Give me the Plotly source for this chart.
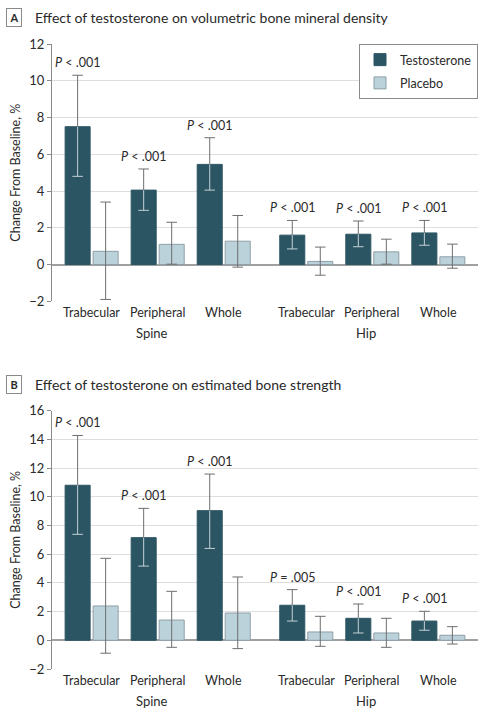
import plotly.graph_objects as go

# ---------------- data ----------------
categories = ["Trabecular", "Peripheral", "Whole", "Trabecular", "Peripheral", "Whole"]
sites = ["Spine", "Hip"]

# Panel A: volumetric BMD
a_test = [7.5, 4.05, 5.45, 1.6, 1.65, 1.72]
a_test_lo = [4.8, 2.95, 4.05, 0.85, 0.97, 1.05]
a_test_hi = [10.3, 5.2, 6.9, 2.4, 2.37, 2.4]
a_plac = [0.72, 1.1, 1.27, 0.17, 0.69, 0.42]
a_plac_lo = [-1.9, 0.02, -0.14, -0.58, 0.02, -0.2]
a_plac_hi = [3.4, 2.3, 2.67, 0.95, 1.38, 1.11]
a_p = ["<i>P</i> < .001"] * 6

# Panel B: estimated bone strength
b_test = [10.8, 7.15, 9.03, 2.44, 1.53, 1.34]
b_test_lo = [7.38, 5.17, 6.4, 1.34, 0.51, 0.7]
b_test_hi = [14.27, 9.19, 11.58, 3.53, 2.53, 2.02]
b_plac = [2.39, 1.41, 1.9, 0.58, 0.51, 0.35]
b_plac_lo = [-0.9, -0.49, -0.58, -0.42, -0.49, -0.26]
b_plac_hi = [5.71, 3.41, 4.41, 1.67, 1.53, 0.95]
b_p = ["<i>P</i> < .001", "<i>P</i> < .001", "<i>P</i> < .001",
       "<i>P</i> = .005", "<i>P</i> < .001", "<i>P</i> < .001"]

# ---------------- style ----------------
W, H = 486, 714
FONT = "Lato"
C_TEST = "#2c5563"
C_PLAC = "#bcd2db"
C_PLAC_LINE = "#8d9fa6"
C_ERR = "#6e6e6e"
C_ERR_IN = "#c3d0d5"
TXT = "#2a2a2a"

pos = [0, 1, 2, 3.25, 4.25, 5.25]
off = 0.212
bw = 0.379
cap = 0.08

px_left, px_right = 52, 478
panels = [
    dict(top=44, bottom=301.3, rng=[-2, 12], title="Effect of testosterone on volumetric bone mineral density",
         letter="A", ty=17, test=a_test, tlo=a_test_lo, thi=a_test_hi,
         plac=a_plac, plo=a_plac_lo, phi=a_plac_hi, p=a_p),
    dict(top=410.6, bottom=669, rng=[-2, 16], title="Effect of testosterone on estimated bone strength",
         letter="B", ty=384, test=b_test, tlo=b_test_lo, thi=b_test_hi,
         plac=b_plac, plo=b_plac_lo, phi=b_plac_hi, p=b_p),
]

fig = go.Figure()
annotations = []
shapes = []

for i, pn in enumerate(panels):
    k = "" if i == 0 else str(i + 1)
    xa, ya = "x" + k, "y" + k
    xt = [p - off for p in pos]
    xp = [p + off for p in pos]
    fig.add_trace(go.Bar(x=xt, y=pn["test"], width=bw, marker=dict(color=C_TEST, line=dict(color=C_TEST, width=1)),
                         name="Testosterone", legendgroup="t", showlegend=(i == 0), xaxis=xa, yaxis=ya,
                         hoverinfo="skip"))
    fig.add_trace(go.Bar(x=xp, y=pn["plac"], width=bw, marker=dict(color=C_PLAC, line=dict(color=C_PLAC_LINE, width=1)),
                         name="Placebo", legendgroup="p", showlegend=(i == 0), xaxis=xa, yaxis=ya,
                         hoverinfo="skip"))
    gx, gy, lx, ly = [], [], [], []
    for x, v, lo, hi in zip(xt, pn["test"], pn["tlo"], pn["thi"]):
        gx += [x, x, None, x - cap, x + cap, None]
        gy += [v, hi, None, hi, hi, None]
        lx += [x, x, None, x - cap, x + cap, None]
        ly += [lo, v, None, lo, lo, None]
    for x, lo, hi in zip(xp, pn["plo"], pn["phi"]):
        gx += [x, x, None, x - cap, x + cap, None, x - cap, x + cap, None]
        gy += [lo, hi, None, hi, hi, None, lo, lo, None]
    fig.add_trace(go.Scatter(x=gx, y=gy, mode="lines", line=dict(color=C_ERR, width=1), showlegend=False,
                             xaxis=xa, yaxis=ya, hoverinfo="skip"))
    fig.add_trace(go.Scatter(x=lx, y=ly, mode="lines", line=dict(color=C_ERR_IN, width=1), showlegend=False,
                             xaxis=xa, yaxis=ya, hoverinfo="skip"))
    for x, hi, txt in zip(xt, pn["thi"], pn["p"]):
        annotations.append(dict(x=x, y=hi, xref=xa, yref=ya, text=txt, showarrow=False, yanchor="bottom",
                                xanchor="center", yshift=3, font=dict(family=FONT, size=12.5, color=TXT)))
    for x, c in zip(pos, categories):
        annotations.append(dict(x=x, y=pn["rng"][0], xref=xa, yref=ya, text=c, showarrow=False, yanchor="top",
                                xanchor="center", yshift=-2, font=dict(family=FONT, size=12.5, color=TXT)))
    for (x0, x1), s in zip([(pos[0] - 0.477, pos[2] + 0.295), (pos[3] - 0.477, pos[5] + 0.295)], sites):
        for sh in [(x0, x1, 19.5, 19.5), (x0, x0, 19.5, 14.5), (x1, x1, 19.5, 14.5)]:
            shapes.append(dict(type="line", xref=xa, yref=ya, ysizemode="pixel", yanchor=pn["rng"][0],
                               x0=sh[0], x1=sh[1], y0=-sh[2], y1=-sh[3], line=dict(color="#8a8a8a", width=1)))
        annotations.append(dict(x=(x0 + x1) / 2, y=pn["rng"][0], xref=xa, yref=ya, text=s, showarrow=False,
                                xanchor="center", yanchor="top", yshift=-22, font=dict(family=FONT, size=13, color=TXT)))
    annotations.append(dict(x=33 / W, y=1 - pn["ty"] / H, xref="paper", yref="paper", text=pn["title"],
                            showarrow=False, xanchor="left", yanchor="middle",
                            font=dict(family=FONT, size=14, color=TXT)))
    annotations.append(dict(x=14 / W, y=1 - pn["ty"] / H, xref="paper", yref="paper", text="<b>" + pn["letter"] + "</b>",
                            showarrow=False, xanchor="center", yanchor="middle", bordercolor="#8a8a8a", borderwidth=1,
                            borderpad=2, width=10, font=dict(family=FONT, size=11, color=TXT)))
    annotations.append(dict(x=16 / W, y=1 - (pn["top"] + pn["bottom"]) / 2 / H, xref="paper", yref="paper",
                            text="Change From Baseline, %", textangle=-90, showarrow=False,
                            xanchor="center", yanchor="middle",
                            font=dict(family=FONT, size=12.5, color=TXT)))

    dom_y = [1 - pn["bottom"] / H, 1 - pn["top"] / H]
    fig.update_layout(**{
        "xaxis" + k: dict(domain=[px_left / W, px_right / W], range=[-0.6, 5.85], showgrid=False, zeroline=False,
                          showline=False, showticklabels=False, ticks="", fixedrange=True,
                          anchor=ya, automargin=False),
        "yaxis" + k: dict(domain=dom_y, range=pn["rng"], dtick=2, showgrid=True, gridcolor="#dedede", gridwidth=1,
                          zeroline=True, zerolinecolor="#a0a0a0", zerolinewidth=1.5,
                          showline=True, linecolor="#8a8a8a", linewidth=1, ticks="outside", ticklen=4,
                          tickcolor="#8a8a8a", tickfont=dict(family=FONT, size=13, color=TXT),
                          anchor=xa, fixedrange=True, automargin=False),
    })

fig.update_layout(
    width=W, height=H, margin=dict(l=0, r=0, t=0, b=0, pad=0, autoexpand=False),
    paper_bgcolor="white", plot_bgcolor="white",
    barmode="overlay",
    annotations=annotations, shapes=shapes,
    legend=dict(x=478 / W, y=1 - 44 / H, xanchor="right", yanchor="top", bgcolor="white",
                bordercolor="#8a8a8a", borderwidth=1, font=dict(family=FONT, size=12.5, color=TXT),
                itemwidth=30, tracegroupgap=4),
    font=dict(family=FONT, color=TXT),
)

fig.write_html("out.html", config={"displayModeBar": False},
               post_script="document.body.style.margin='0';")
